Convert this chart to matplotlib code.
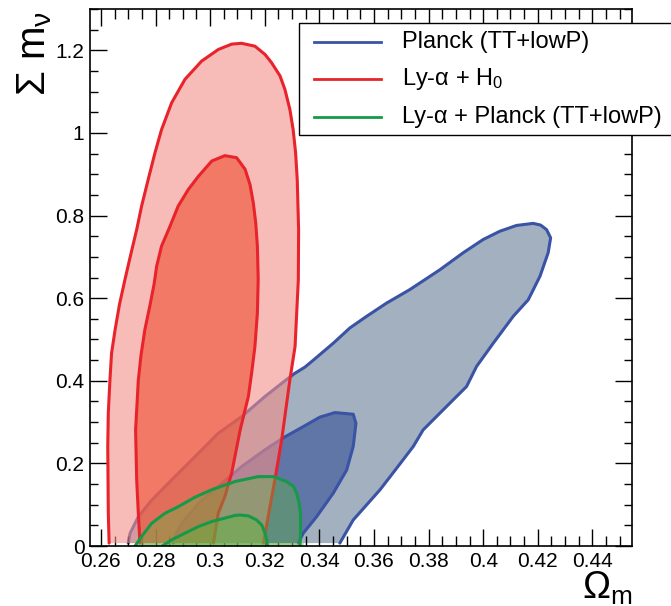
import matplotlib
matplotlib.use("Agg")
import matplotlib.pyplot as plt
from matplotlib.patches import Rectangle
from matplotlib.lines import Line2D
from matplotlib.ticker import MultipleLocator, FuncFormatter

plt.rcParams['font.family'] = ['Liberation Sans', 'DejaVu Sans']
plt.rcParams['mathtext.fontset'] = 'custom'
plt.rcParams['mathtext.rm'] = 'Liberation Sans'
plt.rcParams['mathtext.it'] = 'Liberation Sans'
plt.rcParams['mathtext.bf'] = 'Liberation Sans'

# ---------------- data (contour outlines) ----------------
labels = ["Planck (TT+lowP)", "Ly-\u03b1 + H$_0$", "Ly-\u03b1 + Planck (TT+lowP)"]

planck_2s_x = [0.2700, 0.2707, 0.2737, 0.2786, 0.2859, 0.2944, 0.3030, 0.3115, 0.3201, 0.3274,
               0.3310, 0.3347, 0.3378, 0.3451, 0.3512, 0.3573, 0.3646, 0.3732, 0.3842, 0.3927,
               0.4000, 0.4061, 0.4122, 0.4183, 0.4210, 0.4232, 0.4247, 0.4238, 0.4208, 0.4165,
               0.4110, 0.4037, 0.3976, 0.3939, 0.3854, 0.3780, 0.3744, 0.3685, 0.3622, 0.3524,
               0.3475]
planck_2s_y = [0.007, 0.031, 0.071, 0.111, 0.160, 0.216, 0.273, 0.313, 0.362, 0.400,
               0.418, 0.433, 0.450, 0.491, 0.528, 0.556, 0.588, 0.621, 0.669, 0.710,
               0.742, 0.762, 0.776, 0.781, 0.777, 0.766, 0.746, 0.710, 0.653, 0.596,
               0.556, 0.491, 0.435, 0.386, 0.330, 0.281, 0.241, 0.190, 0.136, 0.063,
               0.007]

planck_1s_x = [0.2865, 0.2871, 0.2896, 0.2957, 0.3030, 0.3115, 0.3201, 0.3268, 0.3341, 0.3402,
               0.3457, 0.3524, 0.3534, 0.3524, 0.3500, 0.3451, 0.3390, 0.3341, 0.3323]
planck_1s_y = [0.007, 0.023, 0.055, 0.103, 0.144, 0.192, 0.233, 0.262, 0.289, 0.312,
               0.323, 0.319, 0.297, 0.241, 0.184, 0.128, 0.071, 0.031, 0.007]

lyah0_2s_x = [0.2630, 0.2627, 0.2625, 0.2627, 0.2633, 0.2639, 0.2652, 0.2668, 0.2688, 0.2709,
              0.2731, 0.2749, 0.2773, 0.2798, 0.2822, 0.2859, 0.2908, 0.2969, 0.3030, 0.3079,
              0.3115, 0.3164, 0.3201, 0.3225, 0.3256, 0.3274, 0.3292, 0.3304, 0.3313, 0.3319,
              0.3324, 0.3323, 0.3311, 0.3292, 0.3275, 0.3262, 0.3237, 0.3215, 0.3195]
lyah0_2s_y = [0.007, 0.080, 0.241, 0.322, 0.402, 0.467, 0.524, 0.585, 0.645, 0.705,
              0.766, 0.823, 0.887, 0.952, 1.008, 1.073, 1.130, 1.174, 1.202, 1.215,
              1.217, 1.210, 1.190, 1.170, 1.138, 1.105, 1.057, 1.008, 0.952, 0.887,
              0.766, 0.645, 0.483, 0.402, 0.320, 0.257, 0.160, 0.080, 0.007]

lyah0_1s_x = [0.2743, 0.2737, 0.2731, 0.2727, 0.2737, 0.2747, 0.2761, 0.2780, 0.2795, 0.2804,
              0.2822, 0.2853, 0.2883, 0.2920, 0.2957, 0.3006, 0.3054, 0.3097, 0.3128, 0.3146,
              0.3158, 0.3167, 0.3173, 0.3176, 0.3173, 0.3164, 0.3152, 0.3140, 0.3110, 0.3079,
              0.3054, 0.3030, 0.3012]
lyah0_1s_y = [0.007, 0.079, 0.160, 0.281, 0.402, 0.463, 0.524, 0.584, 0.635, 0.677,
              0.726, 0.774, 0.823, 0.863, 0.895, 0.932, 0.945, 0.940, 0.912, 0.875,
              0.831, 0.782, 0.726, 0.645, 0.564, 0.483, 0.419, 0.362, 0.281, 0.177,
              0.120, 0.080, 0.007]

lyapl_2s_x = [0.2725, 0.2749, 0.2786, 0.2834, 0.2883, 0.2944, 0.3005, 0.3091, 0.3176, 0.3231,
              0.3280, 0.3305, 0.3317, 0.3326, 0.3331, 0.3331, 0.3329]
lyapl_2s_y = [0.000, 0.023, 0.055, 0.079, 0.095, 0.118, 0.136, 0.156, 0.168, 0.168,
              0.156, 0.144, 0.128, 0.103, 0.079, 0.031, 0.000]

lyapl_1s_x = [0.2825, 0.2859, 0.2908, 0.2957, 0.3005, 0.3091, 0.3109, 0.3140, 0.3170, 0.3189,
              0.3201, 0.3207, 0.3210]
lyapl_1s_y = [0.000, 0.015, 0.031, 0.047, 0.059, 0.074, 0.075, 0.073, 0.063, 0.051,
              0.031, 0.015, 0.000]

# bottom band of the combined fill
band_x = [0.2725, 0.3345]
band_top = [0.007, 0.007]

x_range = (0.256, 0.4545)
y_range = (0.0, 1.3)

# ---------------- style ----------------
blue_line = '#3a53a4'
red_line = '#e8232b'
green_line = '#17994a'

fig = plt.figure(figsize=(6.71, 6.06), dpi=100)
W, H = 671, 606
ax = fig.add_axes([90 / W, 60 / H, 542 / W, 537 / H])
ax.set_xlim(*x_range)
ax.set_ylim(*y_range)

lw = 2.2
kw = dict(solid_joinstyle='round', solid_capstyle='round')

# Planck
ax.fill(planck_2s_x, planck_2s_y, facecolor='#a3b0c0', edgecolor='none', zorder=1)
ax.plot(planck_2s_x, planck_2s_y, color=blue_line, lw=lw, zorder=2, **kw)
ax.fill(planck_1s_x, planck_1s_y, facecolor='#5f76a6', edgecolor='none', zorder=3)
ax.plot(planck_1s_x, planck_1s_y, color=blue_line, lw=lw, zorder=4, **kw)

# Ly-a + H0
ax.fill(lyah0_2s_x, lyah0_2s_y, facecolor=(243/255, 143/255, 138/255), alpha=0.6,
        edgecolor='none', zorder=5)
ax.plot(lyah0_2s_x, lyah0_2s_y, color=red_line, lw=lw, zorder=6, **kw)
ax.fill(lyah0_1s_x, lyah0_1s_y, facecolor=(238/255, 78/255, 47/255), alpha=0.6,
        edgecolor='none', zorder=7)
ax.plot(lyah0_1s_x, lyah0_1s_y, color=red_line, lw=lw, zorder=8, **kw)

# Ly-a + Planck
g_fill = (95/255, 180/255, 65/255)
ax.fill_between(band_x, 0, band_top, color=g_fill, alpha=0.35, lw=0, zorder=9)
ax.fill(lyapl_2s_x, lyapl_2s_y, facecolor=g_fill, alpha=0.4, edgecolor='none', zorder=9)
ax.plot(lyapl_2s_x, lyapl_2s_y, color=green_line, lw=lw, zorder=10, **kw)
ax.fill(lyapl_1s_x, lyapl_1s_y, facecolor=g_fill, alpha=0.45, edgecolor='none', zorder=11)
ax.plot(lyapl_1s_x, lyapl_1s_y, color=green_line, lw=lw, zorder=12, **kw)

# axes / ticks (ROOT style)
ax.xaxis.set_major_locator(MultipleLocator(0.02))
ax.xaxis.set_minor_locator(MultipleLocator(0.005))
ax.yaxis.set_major_locator(MultipleLocator(0.2))
ax.yaxis.set_minor_locator(MultipleLocator(0.05))
ax.tick_params(which='both', direction='in', top=True, right=True, width=1.0, color='black')
ax.tick_params(which='major', length=12)
ax.tick_params(axis='x', which='minor', length=7)
ax.tick_params(axis='y', which='minor', length=6)
ax.tick_params(axis='x', which='major', labelsize=15, pad=4)
ax.tick_params(axis='y', which='major', labelsize=15, pad=4)
fmt = FuncFormatter(lambda v, p: '%g' % round(v, 3))
ax.xaxis.set_major_formatter(fmt)
ax.yaxis.set_major_formatter(fmt)
for s in ax.spines.values():
    s.set_linewidth(1.2)
    s.set_zorder(20)
ax.set_axisbelow(False)

# axis titles
fig.text(35 / W, 1 - 11 / H, "\u03a3 m$_{\u03bd}$", rotation=90, ha='center', va='top', fontsize=29)
fig.text(633 / W, 1 - 570 / H, "\u03a9$_{\\mathrm{m}}$", ha='right', va='top', fontsize=27)

# legend (ROOT-like box extending past the right edge)
lx0, ly_top, ly_bot = 299, 22.7, 135
fig.patches.append(Rectangle((lx0 / W, 1 - ly_bot / H), (700 - lx0) / W, (ly_bot - ly_top) / H,
                             transform=fig.transFigure, facecolor='white', edgecolor='black',
                             lw=1.0, zorder=30, clip_on=False))
entry_y = [42.3, 79.3, 117.3]
entry_colors = [blue_line, red_line, green_line]
for lab, yy, c in zip(labels, entry_y, entry_colors):
    fig.lines.append(Line2D([314 / W, 381 / W], [1 - yy / H, 1 - yy / H], transform=fig.transFigure,
                            color=c, lw=2.0, zorder=31))
    fig.text(402 / W, 1 - yy / H, lab, ha='left', va='center', fontsize=17, zorder=32)

fig.savefig("out.png", dpi=100)
